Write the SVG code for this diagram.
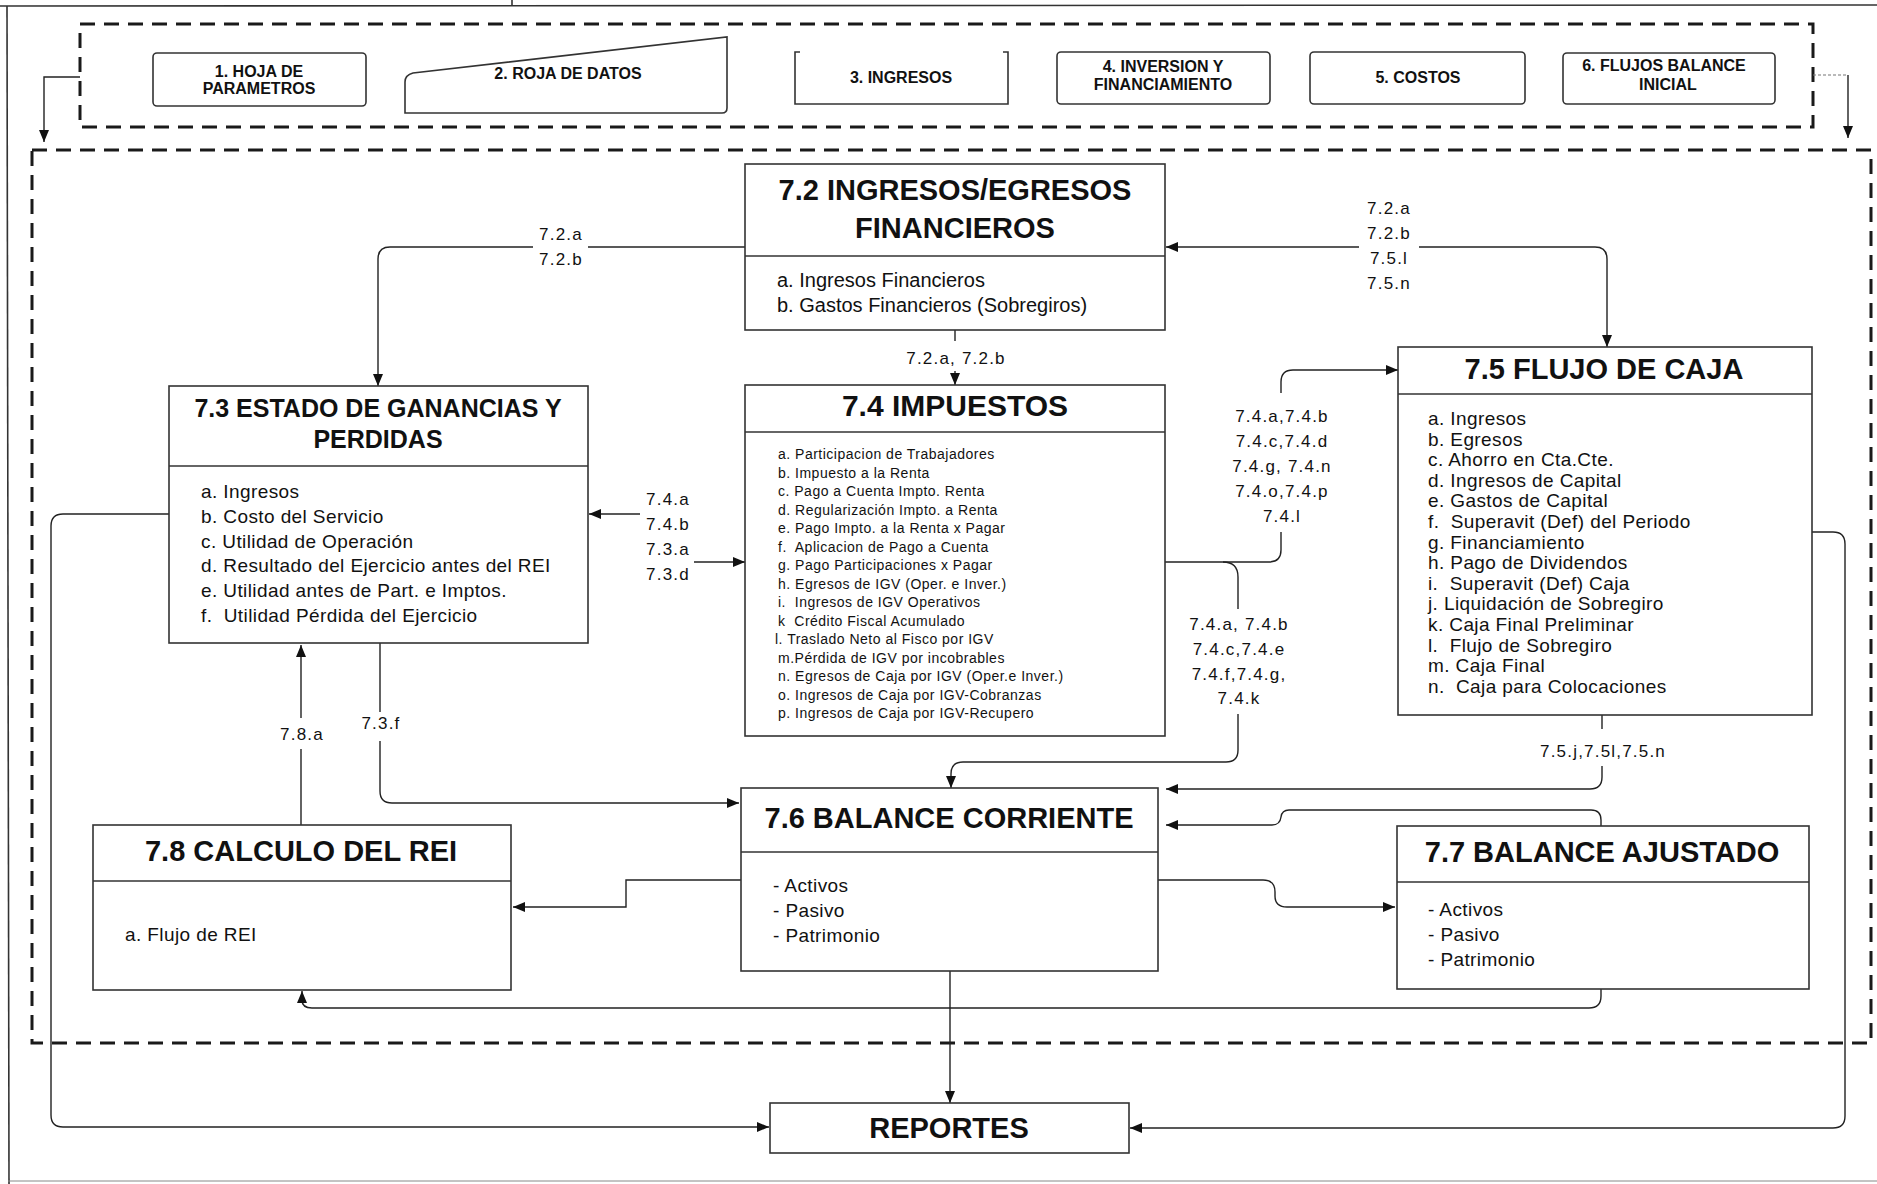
<svg xmlns="http://www.w3.org/2000/svg" width="1877" height="1184" viewBox="0 0 1877 1184">
<defs>
<marker id="ah" viewBox="0 0 12 10" refX="12" refY="5" markerWidth="12" markerHeight="10" markerUnits="userSpaceOnUse" orient="auto">
<path d="M0,0 L12,5 L0,10 Z" fill="#111"/>
</marker>
<style>
text{font-family:"Liberation Sans",Arial,sans-serif;fill:#111;white-space:pre}
.box{fill:#fff;stroke:#333;stroke-width:1.6}
.div{stroke:#333;stroke-width:1.6}
.dash{fill:none;stroke:#1a1a1a;stroke-width:3;stroke-dasharray:15 9}
.tb{font-weight:bold;font-size:16px;text-anchor:middle}
.title{font-weight:bold;font-size:29px;text-anchor:middle}
.body{font-size:19px;letter-spacing:0.4px}
.b74{font-size:14px;letter-spacing:0.5px}
.lbl{font-size:17px;letter-spacing:1.2px;text-anchor:middle}
.ln{fill:none;stroke:#222;stroke-width:1.4}
.arr{fill:none;stroke:#222;stroke-width:1.4;marker-end:url(#ah)}
</style>
</defs>
<rect x="0" y="0" width="1877" height="1184" fill="#fff"/>
<g id="frame" fill="none" stroke="#333" stroke-width="1.6">
<line x1="0" y1="6" x2="1877" y2="5"/>
<line x1="512" y1="0" x2="512" y2="6"/>
<line x1="7" y1="6" x2="9" y2="1184"/>
<line x1="8" y1="1181" x2="1877" y2="1181" stroke="#888" stroke-width="1"/>
</g>
<g id="containers">
<rect class="dash" x="80" y="24" width="1733" height="103"/>
<rect class="dash" x="32" y="150" width="1839" height="893"/>
</g>
<g id="n1"><rect class="box" x="153" y="53" width="213" height="53" rx="4"/><text class="tb" x="259" y="77">1. HOJA DE</text><text class="tb" x="259" y="94">PARAMETROS</text></g>
<g id="n2"><path class="box" d="M405,113 L405,82 Q405,75 413,73 L727,37 L727,108 Q727,113 722,113 Z"/><text class="tb" x="568" y="79">2. ROJA DE DATOS</text></g>
<g id="n3"><path d="M800,52 H795 V104 H1008 V52 H1003" fill="none" stroke="#333" stroke-width="1.6"/><text class="tb" x="901" y="83">3. INGRESOS</text></g>
<g id="n4"><rect class="box" x="1057" y="52" width="213" height="52" rx="4"/><text class="tb" x="1163" y="72">4. INVERSION Y</text><text class="tb" x="1163" y="90">FINANCIAMIENTO</text></g>
<g id="n5"><rect class="box" x="1310" y="52" width="215" height="52" rx="4"/><text class="tb" x="1418" y="83">5. COSTOS</text></g>
<g id="n6"><rect class="box" x="1563" y="53" width="212" height="51" rx="4"/><text class="tb" x="1664" y="71">6. FLUJOS BALANCE</text><text class="tb" x="1668" y="90">INICIAL</text></g>

<g id="connectors">
<path class="arr" d="M80,77 H44 V142"/>
<path d="M1813,75 H1846" fill="none" stroke="#777" stroke-width="1.2" stroke-dasharray="3 2"/>
<path class="arr" d="M1848,75 V138"/>
<path class="ln" d="M745,247 H588"/>
<path class="arr" d="M533,247 H390 Q378,247 378,259 V386"/>
<path class="arr" d="M1359,247 H1166"/>
<path class="arr" d="M1419,247 H1595 Q1607,247 1607,259 V347"/>
<path class="ln" d="M955,330 V341"/>
<path class="arr" d="M955,371 V385"/>
<path class="arr" d="M640,514 H589"/>
<path class="arr" d="M694,562 H745"/>
<path class="ln" d="M1165,562 H1269 Q1281,562 1281,550 V532"/>
<path class="arr" d="M1281,393 V382 Q1281,370 1293,370 H1398"/>
<path class="ln" d="M1223,562 Q1238,562 1238,577 V609"/>
<path class="arr" d="M1238,714 V750 Q1238,762 1226,762 H963 Q951,762 951,774 V788"/>
<path class="ln" d="M1602,715 V729"/>
<path class="arr" d="M1602,766 V777 Q1602,789 1590,789 H1166"/>
<path class="arr" d="M1601,826 V820 Q1601,810 1591,810 H1289 Q1282,810 1281,817 Q1280,825 1272,825 H1166"/>
<path class="arr" d="M1158,880 H1263 Q1275,880 1275,892 V896 Q1275,907 1287,907 H1395"/>
<path class="arr" d="M741,880 H626 V907 H513"/>
<path class="arr" d="M1601,989 V996 Q1601,1008 1589,1008 H312 Q302,1008 302,1000 V991"/>
<path class="ln" d="M301,825 V749"/>
<path class="arr" d="M301,718 V645"/>
<path class="ln" d="M380,643 V712"/>
<path class="arr" d="M380,741 V791 Q380,803 392,803 H739"/>
<path class="arr" d="M950,971 V1103"/>
<path class="arr" d="M169,514 H63 Q51,514 51,526 V1115 Q51,1127 63,1127 H769"/>
<path class="arr" d="M1812,532 H1833 Q1845,532 1845,544 V1116 Q1845,1128 1833,1128 H1130"/>
<g id="labels">
<text class="lbl" x="561" y="240">7.2.a</text><text class="lbl" x="561" y="265">7.2.b</text>
<text class="lbl" x="1389" y="214">7.2.a</text><text class="lbl" x="1389" y="239">7.2.b</text><text class="lbl" x="1389" y="264">7.5.l</text><text class="lbl" x="1389" y="289">7.5.n</text>
<text class="lbl" x="956" y="364">7.2.a, 7.2.b</text>
<text class="lbl" x="668" y="505">7.4.a</text><text class="lbl" x="668" y="530">7.4.b</text><text class="lbl" x="668" y="555">7.3.a</text><text class="lbl" x="668" y="580">7.3.d</text>
<text class="lbl" x="1282" y="422">7.4.a,7.4.b</text><text class="lbl" x="1282" y="447">7.4.c,7.4.d</text><text class="lbl" x="1282" y="472">7.4.g, 7.4.n</text><text class="lbl" x="1282" y="497">7.4.o,7.4.p</text><text class="lbl" x="1282" y="522">7.4.l</text>
<text class="lbl" x="1239" y="630">7.4.a, 7.4.b</text><text class="lbl" x="1239" y="655">7.4.c,7.4.e</text><text class="lbl" x="1239" y="680">7.4.f,7.4.g,</text><text class="lbl" x="1239" y="704">7.4.k</text>
<text class="lbl" x="1603" y="757">7.5.j,7.5l,7.5.n</text>
<text class="lbl" x="302" y="740">7.8.a</text>
<text class="lbl" x="381" y="729">7.3.f</text>
</g>
</g>

<g id="n72"><rect class="box" x="745" y="164" width="420" height="166"/><line class="div" x1="745" y1="256" x2="1165" y2="256"/>
<text class="title" x="955" y="200" font-size="30">7.2 INGRESOS/EGRESOS</text><text class="title" x="955" y="238" font-size="30">FINANCIEROS</text>
<text x="777" y="287" font-size="20">a. Ingresos Financieros</text><text x="777" y="312" font-size="20">b. Gastos Financieros (Sobregiros)</text></g>

<g id="n73"><rect class="box" x="169" y="386" width="419" height="257"/><line class="div" x1="169" y1="466" x2="588" y2="466"/>
<text class="title" x="378" y="417" style="font-size:25px">7.3 ESTADO DE GANANCIAS Y</text><text class="title" x="378" y="448" style="font-size:25px">PERDIDAS</text>
<text class="body" x="201" y="498">a. Ingresos</text>
<text class="body" x="201" y="523">b. Costo del Servicio</text>
<text class="body" x="201" y="548">c. Utilidad de Operación</text>
<text class="body" x="201" y="572">d. Resultado del Ejercicio antes del REI</text>
<text class="body" x="201" y="597">e. Utilidad antes de Part. e Imptos.</text>
<text class="body" x="201" y="622">f.  Utilidad Pérdida del Ejercicio</text></g>

<g id="n74"><rect class="box" x="745" y="385" width="420" height="351"/><line class="div" x1="745" y1="432" x2="1165" y2="432"/>
<text class="title" x="955" y="416" style="font-size:30px">7.4 IMPUESTOS</text>
<text class="b74" x="778" y="459">a. Participacion de Trabajadores</text>
<text class="b74" x="778" y="477.5">b. Impuesto a la Renta</text>
<text class="b74" x="778" y="496">c. Pago a Cuenta Impto. Renta</text>
<text class="b74" x="778" y="514.5">d. Regularización Impto. a Renta</text>
<text class="b74" x="778" y="533">e. Pago Impto. a la Renta x Pagar</text>
<text class="b74" x="778" y="551.5">f.  Aplicacion de Pago a Cuenta</text>
<text class="b74" x="778" y="570">g. Pago Participaciones x Pagar</text>
<text class="b74" x="778" y="588.5">h. Egresos de IGV (Oper. e Inver.)</text>
<text class="b74" x="778" y="607">i.  Ingresos de IGV Operativos</text>
<text class="b74" x="778" y="625.5">k  Crédito Fiscal Acumulado</text>
<text class="b74" x="775" y="644">l. Traslado Neto al Fisco por IGV</text>
<text class="b74" x="778" y="662.5">m.Pérdida de IGV por incobrables</text>
<text class="b74" x="778" y="681">n. Egresos de Caja por IGV (Oper.e Inver.)</text>
<text class="b74" x="778" y="699.5">o. Ingresos de Caja por IGV-Cobranzas</text>
<text class="b74" x="778" y="718">p. Ingresos de Caja por IGV-Recupero</text></g>

<g id="n75"><rect class="box" x="1398" y="347" width="414" height="368"/><line class="div" x1="1398" y1="394" x2="1812" y2="394"/>
<text class="title" x="1604" y="379">7.5 FLUJO DE CAJA</text>
<text class="body" x="1428" y="425">a. Ingresos</text>
<text class="body" x="1428" y="445.6">b. Egresos</text>
<text class="body" x="1428" y="466.2">c. Ahorro en Cta.Cte.</text>
<text class="body" x="1428" y="486.8">d. Ingresos de Capital</text>
<text class="body" x="1428" y="507.4">e. Gastos de Capital</text>
<text class="body" x="1428" y="528">f.  Superavit (Def) del Periodo</text>
<text class="body" x="1428" y="548.6">g. Financiamiento</text>
<text class="body" x="1428" y="569.2">h. Pago de Dividendos</text>
<text class="body" x="1428" y="589.8">i.  Superavit (Def) Caja</text>
<text class="body" x="1428" y="610.4">j. Liquidación de Sobregiro</text>
<text class="body" x="1428" y="631">k. Caja Final Preliminar</text>
<text class="body" x="1428" y="651.6">l.  Flujo de Sobregiro</text>
<text class="body" x="1428" y="672.2">m. Caja Final</text>
<text class="body" x="1428" y="692.8">n.  Caja para Colocaciones</text></g>

<g id="n76"><rect class="box" x="741" y="788" width="417" height="183"/><line class="div" x1="741" y1="852" x2="1158" y2="852"/>
<text class="title" x="949" y="828">7.6 BALANCE CORRIENTE</text>
<text class="body" x="773" y="892">- Activos</text><text class="body" x="773" y="917">- Pasivo</text><text class="body" x="773" y="942">- Patrimonio</text></g>

<g id="n77"><rect class="box" x="1397" y="826" width="412" height="163"/><line class="div" x1="1397" y1="882" x2="1809" y2="882"/>
<text class="title" x="1602" y="862">7.7 BALANCE AJUSTADO</text>
<text class="body" x="1428" y="916">- Activos</text><text class="body" x="1428" y="941">- Pasivo</text><text class="body" x="1428" y="966">- Patrimonio</text></g>

<g id="n78"><rect class="box" x="93" y="825" width="418" height="165"/><line class="div" x1="93" y1="881" x2="511" y2="881"/>
<text class="title" x="301" y="861">7.8 CALCULO DEL REI</text>
<text class="body" x="125" y="941">a. Flujo de REI</text></g>

<g id="nrep"><rect class="box" x="770" y="1103" width="359" height="50"/>
<text class="title" x="949" y="1138">REPORTES</text></g>
</svg>
